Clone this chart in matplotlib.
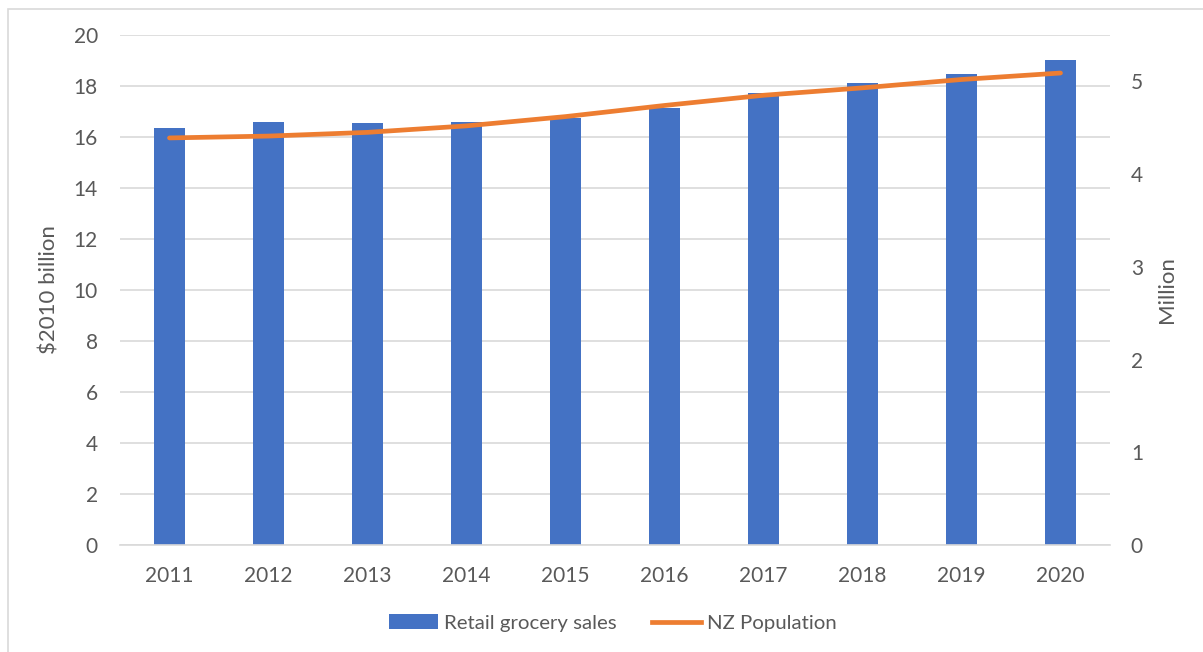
import matplotlib.pyplot as plt
from matplotlib.patches import Rectangle
from matplotlib.lines import Line2D
from matplotlib.patches import Patch

plt.rcParams['font.family'] = ['Lato', 'DejaVu Sans']

years = ['2011', '2012', '2013', '2014', '2015', '2016', '2017', '2018', '2019', '2020']
grocery_sales = [16.34, 16.57, 16.55, 16.6, 16.73, 17.15, 17.71, 18.1, 18.46, 19.01]
nz_population = [4.39, 4.41, 4.45, 4.52, 4.62, 4.74, 4.85, 4.93, 5.02, 5.09]

blue = '#4472C4'
orange = '#ED7D31'
grid = '#D9D9D9'
text_col = '#595959'
fs = 15

fig = plt.figure(figsize=(12.03, 6.52), dpi=100)
W, H = 1203, 652

# light chart border
fig.patches.append(Rectangle((8 / W, -0.1), 1.2, 1 - 9 / H + 0.1, transform=fig.transFigure,
                             fill=False, edgecolor='#D9D9D9', linewidth=1.2))

ax = fig.add_axes([120 / W, 1 - 545 / H, 990 / W, 510 / H])
x = list(range(len(years)))
ax.bar(x, grocery_sales, width=0.32, color=blue, zorder=2)
ax.set_xlim(-0.5, len(years) - 0.5)
ax.set_ylim(0, 20)
ax.set_yticks(range(0, 21, 2))
ax.yaxis.grid(True, color=grid, linewidth=1.2, zorder=0)
ax.set_axisbelow(True)
for s in ['top', 'right', 'left']:
    ax.spines[s].set_visible(False)
ax.spines['bottom'].set_color(grid)
ax.spines['bottom'].set_linewidth(1.2)
ax.set_xticks(x)
ax.set_xticklabels(years)
ax.tick_params(axis='both', length=0, labelsize=fs, labelcolor=text_col)
ax.tick_params(axis='x', pad=15)
ax.tick_params(axis='y', pad=16)
ax.set_ylabel('$2010 billion', fontsize=fs + 1, color=text_col, labelpad=10)

ax2 = ax.twinx()
ax2.plot(x, nz_population, color=orange, linewidth=3.4, solid_capstyle='round', zorder=3)
ax2.set_ylim(0, 5.5)
ax2.set_yticks(range(0, 6))
for s in ax2.spines.values():
    s.set_visible(False)
ax2.tick_params(axis='y', length=0, labelsize=fs, labelcolor=text_col, pad=15)
ax2.set_ylabel('Million', fontsize=fs + 1, color=text_col, labelpad=10)

handles = [Patch(facecolor=blue), Line2D([0], [0], color=orange, linewidth=3.4)]
fig.legend(handles, ['Retail grocery sales', 'NZ Population'], loc='center',
           bbox_to_anchor=(613 / W, 1 - 623 / H), ncol=2, frameon=False,
           fontsize=fs - 0.3, labelcolor=text_col, handlelength=2.4, handletextpad=0.3,
           columnspacing=1.7)

fig.savefig('out.png', dpi=100)
